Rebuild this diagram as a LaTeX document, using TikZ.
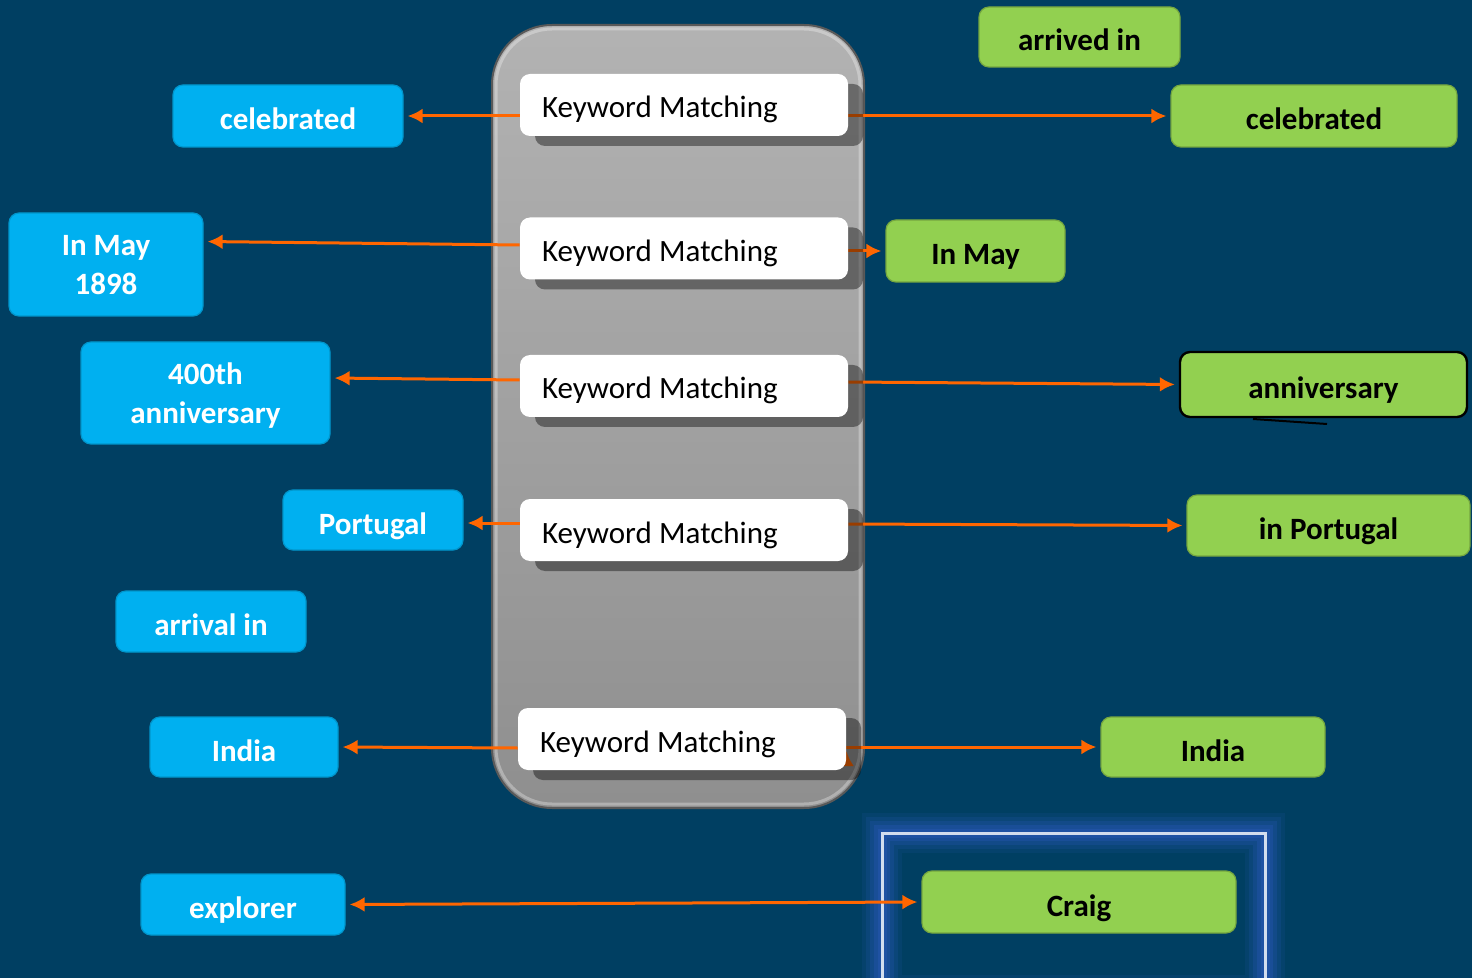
\documentclass[tikz,border=0pt]{standalone}
\usepackage{fontspec}
\setmainfont{Carlito}
\usetikzlibrary{arrows.meta}
\usetikzlibrary{shadows}

\pgfdeclarelayer{background}
\pgfdeclarelayer{middle}
\pgfsetlayers{background,middle,main}

\definecolor{bgblue}{RGB}{0,63,98}
\definecolor{qblue}{RGB}{0,176,240}
\definecolor{agreen}{RGB}{146,208,80}
\definecolor{linkorange}{RGB}{255,102,0}
\definecolor{glowblue}{RGB}{35,85,170}

\begin{document}
\begin{tikzpicture}[x=0.5pt,y=-0.5pt,
  every node/.style={font=\fontsize{15.5}{19}\selectfont},
  question/.style={draw=qblue!85!black,line width=0.6pt,fill=qblue,rounded corners=5pt,
    text=white,font=\bfseries\fontsize{15.5}{19.5}\selectfont,align=center,inner sep=0pt},
  answer/.style={draw=agreen!80!black,line width=0.6pt,fill=agreen,rounded corners=5pt,
    text=black,font=\bfseries\fontsize{15.5}{19.5}\selectfont,align=center,inner sep=0pt},
  oneline/.style={text height=14pt,text depth=0pt},
  twolines/.style={text depth=-3pt},
  matcher/.style={fill=white,rounded corners=5pt,text width=142pt,inner xsep=11pt,
    inner ysep=0pt,text height=13pt,text depth=0pt,minimum height=31pt,align=left,
    drop shadow={shadow xshift=7.5pt,shadow yshift=-5pt,opacity=0.4,fill=black}},
  tip/.tip={Latex[length=7.5pt,width=7.5pt]},
  link/.style={draw,color=linkorange,line width=1.5pt,-tip,shorten >=2pt}]

  \useasboundingbox (0,0) rectangle (1472,978);

  \node [matcher] (KM_1) at (684,105)   {Keyword\hspace{-1.5pt} Matching};
  \node [matcher] (KM_2) at (684,248.5) {Keyword\hspace{-1.5pt} Matching};
  \node [matcher] (KM_3) at (684,386)   {Keyword\hspace{-1.5pt} Matching};
  \node [matcher] (KM_4) at (684,530)   {Keyword\hspace{-1.5pt} Matching};
  \node [matcher] (KM_5) at (682,739)   {Keyword\hspace{-1.5pt} Matching};

  \node [question,oneline,minimum width=115pt,minimum height=31pt]     (Lcelebrated) at (288,116)   {celebrated};
  \node [question,twolines,minimum width=97pt,minimum height=51.5pt]   (Lmay)        at (106,264.5) {In May\\1898};
  \node [question,twolines,minimum width=124.5pt,minimum height=51pt]  (Lanniv)      at (205.5,393) {400th\\anniversary};
  \node [question,oneline,minimum width=90pt,minimum height=30pt]      (Lportugal)   at (373,520)   {Portugal};
  \node [question,oneline,minimum width=95pt,minimum height=30.5pt]    (Larrival)    at (211,621.5) {arrival in};
  \node [question,oneline,minimum width=94pt,minimum height=30pt]      (Lindia)      at (244,747)   {India};
  \node [question,oneline,minimum width=102pt,minimum height=30.5pt]   (Lexplorer)   at (243,904.5) {explorer};

  \node [answer,oneline,minimum width=100.5pt,minimum height=30pt]  (Rarrived)    at (1079.5,37)    {arrived in};
  \node [answer,oneline,minimum width=143pt,minimum height=31pt]    (Rcelebrated) at (1314,116)     {celebrated};
  \node [answer,oneline,minimum width=89.5pt,minimum height=31pt]   (Rmay)        at (975.5,251)    {In May};
  \node [answer,oneline,draw=black,line width=1.2pt,minimum width=143.5pt,minimum height=32.5pt]
                                                                    (Ranniv)      at (1323.5,384.5) {anniversary};
  \node [answer,oneline,minimum width=141.5pt,minimum height=30.5pt] (Rportugal)  at (1328.5,525.5) {in Portugal};
  \node [answer,oneline,minimum width=112pt,minimum height=30pt]    (Rindia)      at (1213,747)     {India};
  \node [answer,oneline,minimum width=157pt,minimum height=31pt]    (Rcraig)      at (1079,902)     {Craig};

  \draw [black,line width=1pt] (1253,419) -- (1327,424);

  \begin{pgfonlayer}{background}
    \fill [bgblue] (0,0) rectangle (1472,978);
    \draw [rounded corners=30pt,top color=gray!60,bottom color=gray!88,
      draw=gray!70!black,line width=1pt] (492,25) rectangle (864,808);
    \draw [rounded corners=28pt,white,opacity=0.3,line width=1.5pt] (496,29) rectangle (860,804);
    \foreach \w/\o in {40/0.15,32/0.22,24/0.32,16/0.45,9/0.65}
      \draw [glowblue,line width=\w*0.5pt,opacity=\o] (882,833) rectangle (1265,995);
    \draw [white!80!glowblue,line width=1.5pt] (882,833) rectangle (1265,995);
  \end{pgfonlayer}

  \begin{pgfonlayer}{middle}
    \path [link]
      (KM_1.west |- Lcelebrated.east) edge (Lcelebrated.east)
      ([yshift=1.75pt]KM_2.west)      edge ([yshift=11.5pt]Lmay.east)
      ([yshift=3pt]KM_3.west)         edge ([yshift=7.5pt]Lanniv.east)
      ([yshift=3.5pt]KM_4.west)       edge ([yshift=-1.5pt]Lportugal.east)
      ([yshift=-4.5pt]KM_5.west)      edge (Lindia.east)
      (KM_1.east |- Rcelebrated.west) edge (Rcelebrated.west)
      ([yshift=-1.25pt]KM_2.east)     edge (Rmay.west)
      ([yshift=2pt]KM_3.east)         edge (Ranniv.west)
      ([yshift=3pt]KM_4.east)         edge (Rportugal.west)
      ([yshift=-4pt]KM_5.east)        edge (Rindia.west);
    \draw [link,tip-tip,shorten <=2pt]
      (Lexplorer.east) -- (Rcraig.west);
  \end{pgfonlayer}
\end{tikzpicture}
\end{document}
